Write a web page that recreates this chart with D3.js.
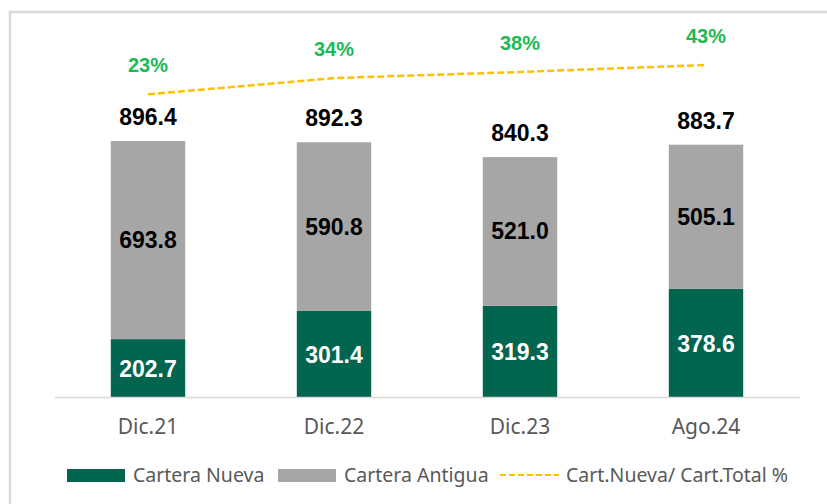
<!DOCTYPE html>
<html lang="es">
<head>
<meta charset="UTF-8">
<title>Cartera</title>
<script src="https://cdnjs.cloudflare.com/ajax/libs/d3/7.8.5/d3.min.js"></script>
<style>
  body { margin: 0; background: #fff; }
  svg { display: block; }
</style>
</head>
<body>
<div id="chart"></div>
<script>
var periods = ['Dic.21', 'Dic.22', 'Dic.23', 'Ago.24'];
var nueva = [202.7, 301.4, 319.3, 378.6];
var antigua = [693.8, 590.8, 521.0, 505.1];
var totals = [896.4, 892.3, 840.3, 883.7];
var ratio = [22.6, 33.8, 38.0, 42.8];
var ratioLabels = ['23%', '34%', '38%', '43%'];

var w = 827, h = 504;
var green = '#02654f', grey = '#a6a6a6', gold = '#ffc000', pctGreen = '#1db954';

var svg = d3.select('#chart').append('svg')
    .attr('width', w)
    .attr('height', h);

// outer frame (runs off the right and bottom edges)
svg.append('rect')
    .attr('x', 10).attr('y', 12)
    .attr('width', 840).attr('height', 520)
    .attr('fill', '#fff')
    .attr('stroke', '#d9d9d9')
    .attr('stroke-width', 2.5);

var x = d3.scaleBand()
    .domain(periods)
    .range([55, 799])
    .paddingInner(0.6)
    .paddingOuter(0.3);

var y = d3.scaleLinear().domain([0, 1000]).range([397, 111.5]);
var y2 = d3.scaleLinear().domain([0, 100]).range([127.1, -17.9]);

var rows = periods.map(function (p, i) {
    return { p: p, n: nueva[i], a: antigua[i], t: totals[i], r: ratio[i], rl: ratioLabels[i] };
});

// bars
var g = svg.append('g');
g.selectAll('rect.nueva').data(rows).enter().append('rect')
    .attr('x', function (d) { return x(d.p); })
    .attr('y', function (d) { return y(d.n); })
    .attr('width', x.bandwidth())
    .attr('height', function (d) { return y(0) - y(d.n); })
    .attr('fill', green);
g.selectAll('rect.antigua').data(rows).enter().append('rect')
    .attr('x', function (d) { return x(d.p); })
    .attr('y', function (d) { return y(d.n + d.a); })
    .attr('width', x.bandwidth())
    .attr('height', function (d) { return y(d.n) - y(d.n + d.a); })
    .attr('fill', grey);

// baseline
svg.append('line')
    .attr('x1', 55).attr('x2', 800)
    .attr('y1', y(0) + 0.5).attr('y2', y(0) + 0.5)
    .attr('stroke', '#d9d9d9').attr('stroke-width', 1.5);

// x axis labels
var xAxis = d3.axisBottom(x).tickSize(0).tickPadding(22);
var ax = svg.append('g')
    .attr('transform', 'translate(0,' + y(0) + ')')
    .call(xAxis);
ax.select('.domain').remove();
ax.selectAll('text')
    .attr('fill', '#595959')
    .style('font-family', '"Noto Sans", sans-serif')
    .style('font-size', '21px');

var bold = 'Liberation Sans, Arial, sans-serif';

// value labels
g.selectAll('text.n').data(rows).enter().append('text')
    .attr('x', function (d) { return x(d.p) + x.bandwidth() / 2; })
    .attr('y', function (d) { return (y(0) + y(d.n)) / 2 + 9; })
    .attr('text-anchor', 'middle')
    .attr('fill', '#fff')
    .style('font', 'bold 23px ' + bold)
    .text(function (d) { return d.n.toFixed(1); });
g.selectAll('text.a').data(rows).enter().append('text')
    .attr('x', function (d) { return x(d.p) + x.bandwidth() / 2; })
    .attr('y', function (d) { return (y(d.n) + y(d.n + d.a)) / 2 + 8; })
    .attr('text-anchor', 'middle')
    .attr('fill', '#000')
    .style('font', 'bold 23px ' + bold)
    .text(function (d) { return d.a.toFixed(1); });
g.selectAll('text.t').data(rows).enter().append('text')
    .attr('x', function (d) { return x(d.p) + x.bandwidth() / 2; })
    .attr('y', function (d) { return y(d.n + d.a) - 16; })
    .attr('text-anchor', 'middle')
    .attr('fill', '#000')
    .style('font', 'bold 23px ' + bold)
    .text(function (d) { return d.t.toFixed(1); });

// ratio line
var line = d3.line()
    .x(function (d) { return x(d.p) + x.bandwidth() / 2; })
    .y(function (d) { return y2(d.r); });
svg.append('path')
    .datum(rows)
    .attr('d', line)
    .attr('fill', 'none')
    .attr('stroke', gold)
    .attr('stroke-width', 2.5)
    .attr('stroke-dasharray', '7,3');

svg.selectAll('text.r').data(rows).enter().append('text')
    .attr('x', function (d) { return x(d.p) + x.bandwidth() / 2; })
    .attr('y', function (d) { return y2(d.r) - 22; })
    .attr('text-anchor', 'middle')
    .attr('fill', pctGreen)
    .style('font', 'bold 20px ' + bold)
    .text(function (d) { return d.rl; });

// legend
var legend = svg.append('g').attr('transform', 'translate(0,482)');
var items = [
    { x: 67, label: 'Cartera Nueva', type: 'rect', color: green },
    { x: 278, label: 'Cartera Antigua', type: 'rect', color: grey },
    { x: 500, label: 'Cart.Nueva/ Cart.Total %', type: 'line', color: gold }
];
items.forEach(function (it) {
    if (it.type === 'rect') {
        legend.append('rect')
            .attr('x', it.x).attr('y', -13)
            .attr('width', 58).attr('height', 13)
            .attr('fill', it.color);
    } else {
        legend.append('line')
            .attr('x1', it.x).attr('x2', it.x + 59)
            .attr('y1', -7).attr('y2', -7)
            .attr('stroke', it.color)
            .attr('stroke-width', 2)
            .attr('stroke-dasharray', '6,3');
    }
    legend.append('text')
        .attr('x', it.x + 66)
        .attr('y', 0)
        .attr('fill', '#595959')
        .style('font-family', '"Noto Sans", sans-serif')
        .style('font-size', '19.5px')
        .text(it.label);
});
</script>
</body>
</html>
